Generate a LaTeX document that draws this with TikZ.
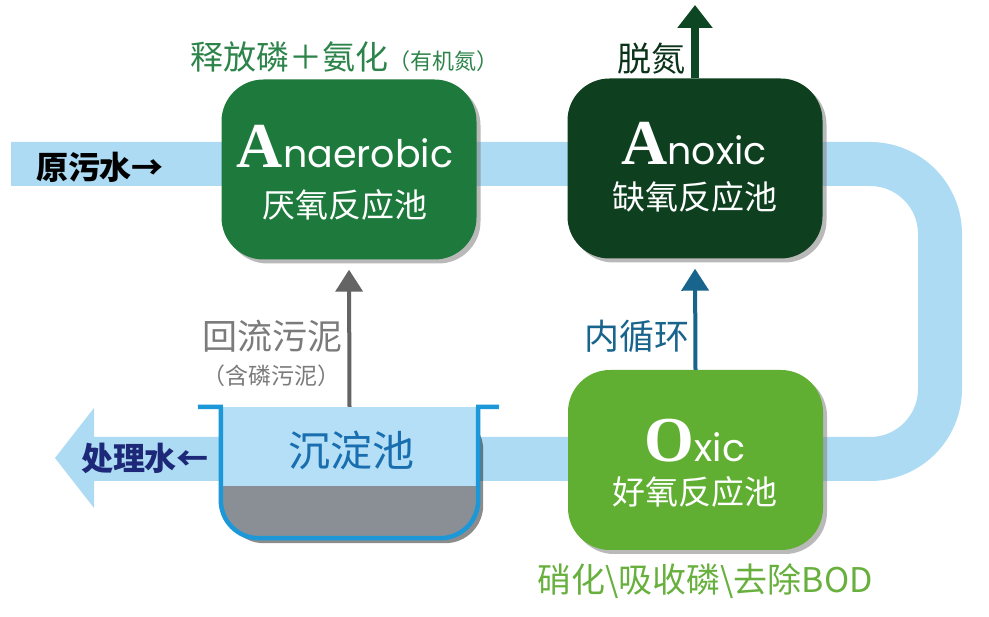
\documentclass[tikz,border=0pt]{standalone}
\usepackage{fontspec}
\setmainfont{Liberation Serif}
\newfontfamily\cjk{Noto Sans CJK SC}
\newfontfamily\geo{Poppins}
\usepackage{tikz}
\usetikzlibrary{arrows.meta,shadows,positioning}

\definecolor{pipeblue}{RGB}{172,219,243}
\definecolor{tankwater}{RGB}{180,223,246}
\definecolor{tankrim}{RGB}{28,152,216}
\definecolor{sludge}{RGB}{138,143,150}
\definecolor{anagreen}{RGB}{29,122,60}
\definecolor{anoxgreen}{RGB}{14,64,32}
\definecolor{oxgreen}{RGB}{96,175,50}
\definecolor{releasegreen}{RGB}{44,132,74}
\definecolor{oxtext}{RGB}{104,176,62}
\definecolor{ventgreen}{RGB}{12,70,35}
\definecolor{innerblue}{RGB}{25,100,140}
\definecolor{returngray}{RGB}{100,100,100}
\definecolor{tanktext}{RGB}{25,110,175}
\definecolor{effluentblue}{RGB}{30,40,120}

\newcommand\setsz[1]{\fontsize{#1}{#1}\selectfont}
\newcommand\poolinitial[1]{{\rmfamily\bfseries\setsz{64pt}#1}}

\begin{document}
\begin{tikzpicture}[x=1pt,y=-1pt,
    pool/.style={rounded corners=42pt,minimum width=255pt,minimum height=180pt,inner sep=0pt,
        drop shadow={shadow xshift=4pt,shadow yshift=-4pt,opacity=.55}},
    pooltitle/.style={anchor=base,text=white,inner sep=0pt,font=\geo\setsz{38pt}},
    poolsub/.style={text=white,inner sep=0pt,font=\cjk\setsz{33pt}},
    label/.style={inner sep=0pt,font=\cjk\setsz{#1}},
    pipe/.style={pipeblue,line width=44pt,rounded corners=70pt},
    tankline/.style={tankrim,line width=4.5pt},
    lift/.style={line width=#1,-{Triangle[width=27pt,length=22pt]},shorten >=10pt}
  ]
    \fill[white] (0,0) rectangle (989,617);
    \useasboundingbox (0,0) rectangle (989,617);

    % 水流管道
    \coordinate (inlet) at (11,164);
    \coordinate (outlet) at (93,459);
    \draw[pipe] (inlet) -| (940,459) -- (outlet);
    \fill[pipeblue] (outlet) ++(1,-51) -- ++(-39,50) -- ++(39,50) -- cycle;

    % 三个反应池
    \node[pool,fill=anagreen] (ana) at (349,169.5) {};
    \node[pool,fill=anoxgreen] (anox) at (695,168.5) {};
    \node[pool,fill=oxgreen] (ox) at (695.5,460) {};

    \node[pooltitle] (anatitle) at (345,168) {\poolinitial{A}naerobic};
    \node[poolsub] (anasub) at (345,205) {厌氧反应池};
    \node[pooltitle] (anoxtitle) at (694,165) {\poolinitial{A}noxic};
    \node[poolsub] (anoxsub) at (695,197) {缺氧反应池};
    \node[pooltitle] (oxtitle) at (695,462) {\poolinitial{O}xic};
    \node[poolsub] (oxsub) at (695,492) {好氧反应池};

    % 沉淀池
    \node[minimum width=257pt,minimum height=131pt,inner sep=0pt] (tank) at (349.5,472.5) {};
    \fill[black,opacity=.45,rounded corners=38pt] ([shift={(5,5)}]tank.north west) -- ([shift={(5,5)}]tank.south west)
        -- ([shift={(5,5)}]tank.south east) -- ([shift={(5,5)}]tank.north east) -- cycle;
    \fill[tankwater] (tank.north west) rectangle (478,487);
    \begin{scope}
        \clip (221,487) rectangle (478,545);
        \fill[sludge,rounded corners=38pt] (tank.north west) rectangle (tank.south east);
    \end{scope}
    \draw[tankline,rounded corners=38pt] (tank.north west) -- (tank.south west) -- (tank.south east) -- (tank.north east);
    \draw[tankline] (198,407) -- ([xshift=2pt]tank.north west);
    \draw[tankline] ([xshift=-2pt]tank.north east) -- (499,407);
    \node[label=42pt,text=tanktext] (tanklbl) at (351,450) {沉淀池};

    % 回流与内循环
    \draw[lift=4pt,returngray] (tank.north) -- (ana.south);
    \draw[lift=4pt,innerblue] (ox.north) -- (anox.south);
    \coordinate (vent) at (695,5);
    \draw[ventgreen,line width=8pt,-{Triangle[width=34pt,length=23pt]}] (anox.north) -- (vent);

    \node[label=33pt,text=releasegreen,anchor=base west] (release) at (190,70)
        {释放磷＋氨化{\setsz{22pt}（有机氮）}};
    \node[label=34pt,text=anoxgreen!80!black] (denit) at (651,59) {脱氮};
    \node[label=32pt,font=\cjk\bfseries\setsz{32pt}] (inflow) at (100,167) {原污水→};
    \node[label=32pt,font=\cjk\bfseries\setsz{32pt},text=effluentblue] (effluent) at (145,458) {处理水←};
    \node[label=35pt,text=returngray!85!white] (returnlbl) at (272,336) {回流污泥};
    \node[label=23pt,text=returngray!85!white] (returnnote) at (271,376) {（含磷污泥）};
    \node[label=35pt,text=innerblue] (innerlbl) at (637,336) {内循环};
    \node[label=34pt,text=oxtext] (oxlbl) at (705,581) {硝化\textbackslash 吸收磷\textbackslash 去除BOD};
\end{tikzpicture}
\end{document}
